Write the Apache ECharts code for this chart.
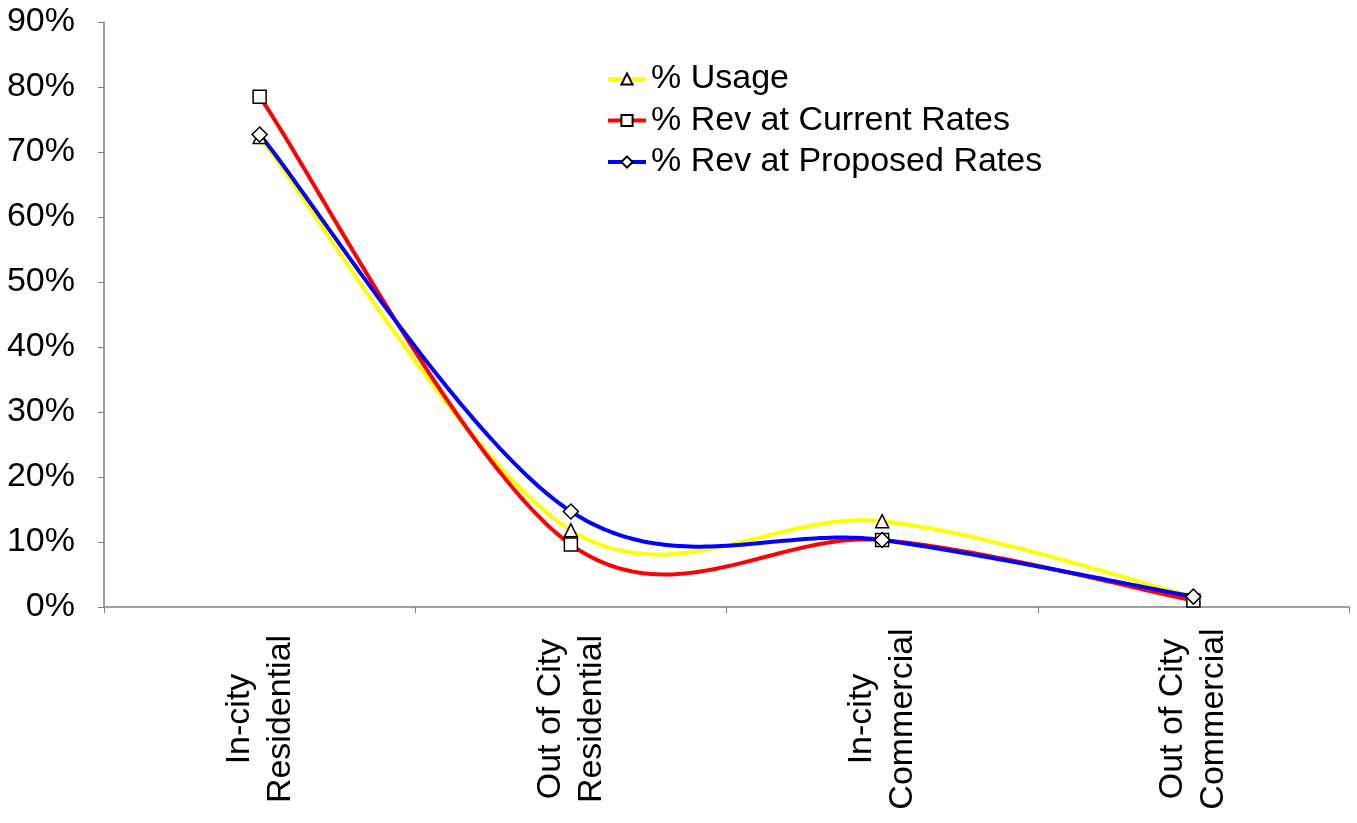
<!DOCTYPE html>
<html><head><meta charset="utf-8">
<script src="https://cdn.jsdelivr.net/npm/echarts@6/dist/echarts.min.js"></script>
<style>html,body{margin:0;padding:0;background:#fff}#c{width:1357px;height:823px}</style>
</head><body><div id="c"></div>
<script>
const categories = ['In-city\nResidential', 'Out of City\nResidential', 'In-city\nCommercial', 'Out of City\nCommercial'];
const usage = [72.3, 11.8, 13.2, 1.6];
const revCurrent = [78.5, 9.6, 10.3, 1.0];
const revProposed = [72.7, 14.7, 10.3, 1.6];
const yTicks = [0, 10, 20, 30, 40, 50, 60, 70, 80, 90];

const font = 'Liberation Sans, Arial, sans-serif';
const chart = echarts.init(document.getElementById('c'));

// Excel-style smoothed curve (Catmull-Rom -> cubic Bezier), sampled in pixel space
function curveSeries(id, values, color, z) {
  return {
    id, type: 'custom', silent: true, z,
    data: [[0]],
    renderItem(params, api) {
      const p = values.map((v, i) => api.coord([i, v]));
      const n = p.length;
      const pts = [];
      for (let i = 0; i < n - 1; i++) {
        const p0 = p[Math.max(i - 1, 0)], p1 = p[i], p2 = p[i + 1], p3 = p[Math.min(i + 2, n - 1)];
        const c1 = [p1[0] + (p2[0] - p0[0]) / 6, p1[1] + (p2[1] - p0[1]) / 6];
        const c2 = [p2[0] - (p3[0] - p1[0]) / 6, p2[1] - (p3[1] - p1[1]) / 6];
        const steps = 60;
        for (let s = (i === 0 ? 0 : 1); s <= steps; s++) {
          const t = s / steps, u = 1 - t;
          const a = u * u * u, b = 3 * u * u * t, c = 3 * u * t * t, d = t * t * t;
          pts.push([a * p1[0] + b * c1[0] + c * c2[0] + d * p2[0],
                    a * p1[1] + b * c1[1] + c * c2[1] + d * p2[1]]);
        }
      }
      return { type: 'polyline', shape: { points: pts },
        style: { stroke: color, lineWidth: 4, fill: null, lineJoin: 'round', lineCap: 'round' } };
    }
  };
}
function markers(name, data, color, symbol) {
  return {
    name, type: 'line', data,
    symbol, symbolSize: symbol === 'diamond' ? 15 : 13,
    showAllSymbol: true,
    lineStyle: { color, width: 4, opacity: 0 },
    itemStyle: { color: '#fff', borderColor: '#000', borderWidth: 1.5 },
    emphasis: { disabled: true },
    z: 10
  };
}
chart.setOption({
  animation: false,
  grid: { left: 104, right: 8, top: 22, bottom: 216 },
  legend: {
    orient: 'vertical', left: 601, top: 57, itemGap: 7.5, itemWidth: 38, itemHeight: 14,
    lineStyle: { opacity: 1, width: 4 },
    textStyle: { fontFamily: font, fontSize: 34, color: '#000' },
    data: ['% Usage', '% Rev at Current Rates', '% Rev at Proposed Rates']
  },
  xAxis: {
    type: 'category', data: categories, boundaryGap: true,
    axisLine: { lineStyle: { color: '#808080', width: 1.5 } },
    axisTick: { show: true, length: 6, lineStyle: { color: '#808080' } },
    axisLabel: { rotate: 90, align: 'center', fontFamily: font, fontSize: 34, color: '#000',
      margin: 112, lineHeight: 41, interval: 0 }
  },
  yAxis: {
    type: 'value', min: 0, max: 90, interval: 10,
    axisLine: { show: true, lineStyle: { color: '#808080', width: 1.5 } },
    axisTick: { show: true, length: 6, lineStyle: { color: '#808080' } },
    splitLine: { show: false },
    axisLabel: { fontFamily: font, fontSize: 34, color: '#000', margin: 29,
      formatter: v => yTicks.includes(v) ? v + '%' : '' }
  },
  series: [
    curveSeries('c-usage', usage, '#FFFF00', 2),
    curveSeries('c-cur', revCurrent, '#FF0000', 3),
    curveSeries('c-prop', revProposed, '#0000FF', 4),
    markers('% Usage', usage, '#FFFF00', 'triangle'),
    markers('% Rev at Current Rates', revCurrent, '#FF0000', 'rect'),
    markers('% Rev at Proposed Rates', revProposed, '#0000FF', 'diamond')
  ]
});
</script></body></html>
